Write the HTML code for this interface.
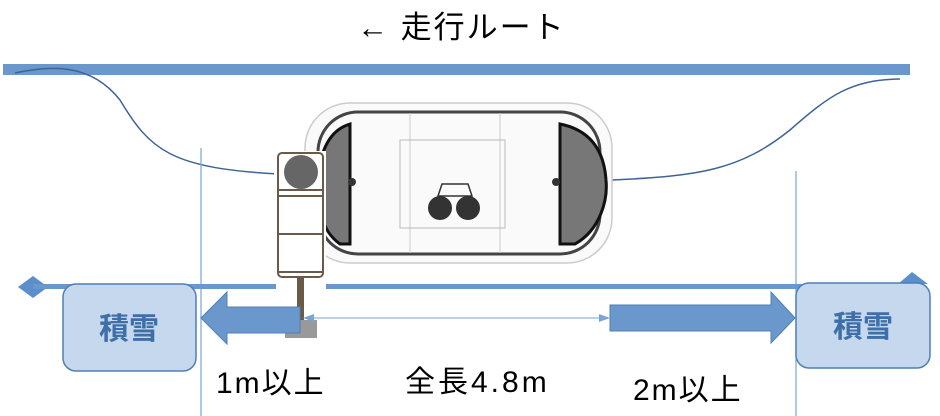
<!DOCTYPE html>
<html><head><meta charset="utf-8"><style>
body{margin:0;background:#fff;width:940px;height:416px;overflow:hidden;position:relative;font-family:"Liberation Sans","Noto Sans CJK JP",sans-serif}
.t{position:absolute;color:#000;white-space:nowrap}
</style></head><body>
<svg width="940" height="416" style="position:absolute;left:0;top:0">
<rect x="3" y="64" width="907" height="11" fill="#6a98cc"/>
<path d="M15,73 C50,66 90,62 120,100 C150,150 170,168 278,174" fill="none" stroke="#3d6496" stroke-width="1.5"/>
<path d="M612,180 C700,176 740,170 790,130 C830,95 850,80 900,79" fill="none" stroke="#3d6496" stroke-width="1.5"/>
<line x1="201" y1="148" x2="201" y2="416" stroke="#7aa3d6" stroke-width="1.2"/>
<line x1="796" y1="171" x2="796" y2="416" stroke="#7aa3d6" stroke-width="1.2"/>
<!-- car -->
<rect x="305" y="103" width="307" height="160" rx="45" fill="#fafafa" stroke="#ccc" stroke-width="1.5"/>
<rect x="318" y="112" width="282" height="142" rx="40" fill="none" stroke="#444" stroke-width="3"/>
<line x1="410" y1="113" x2="410" y2="253" stroke="#ccc"/>
<line x1="500" y1="113" x2="500" y2="253" stroke="#ccc"/>
<path d="M350,124 L350,244 L340,244 C320,230 315,200 318,180 C320,150 330,130 350,124Z" fill="#777" stroke="#111" stroke-width="3"/>
<path d="M560,124 L560,244 L575,244 C600,230 608,200 606,180 C604,150 590,130 560,124Z" fill="#777" stroke="#111" stroke-width="3"/>
<rect x="400" y="140" width="105" height="88" fill="none" stroke="#bbb"/>
<circle cx="440" cy="208" r="12" fill="#333"/><circle cx="468" cy="208" r="12" fill="#333"/>
<path d="M438,196 L442,184 L468,184 L472,196Z" fill="none" stroke="#333" stroke-width="1.5"/>
<circle cx="352" cy="182" r="4" fill="#333"/><circle cx="556" cy="182" r="4" fill="#333"/>
<!-- pole -->
<rect x="274" y="151" width="52" height="127" fill="#fff"/>
<rect x="278" y="153" width="45" height="124" rx="4" fill="#fff" stroke="#6b5a4a" stroke-width="2"/>
<line x1="279" y1="190" x2="322" y2="190" stroke="#6b5a4a" stroke-width="2"/>
<line x1="279" y1="196" x2="322" y2="196" stroke="#6b5a4a" stroke-width="2"/>
<line x1="279" y1="234" x2="322" y2="234" stroke="#6b5a4a" stroke-width="2"/>
<line x1="279" y1="272" x2="322" y2="272" stroke="#6b5a4a" stroke-width="2"/>
<circle cx="301" cy="172" r="17" fill="#666"/>
<path d="M297,278 L297,320 L304,320 L304,278Z" fill="#6b5a4a"/>
<rect x="285" y="320" width="32" height="18" fill="#999"/>
<!-- lower line -->
<path d="M18,287 L33,276 L48,287 L33,298Z" fill="#5b8fcb"/>
<rect x="33" y="284" width="243" height="5" fill="#6a98cc"/>
<rect x="326" y="284" width="594" height="5" fill="#6a98cc"/>
<path d="M898,284 L912,272 L928,284Z" fill="#5b8fcb"/>
<!-- snow boxes -->
<rect x="63" y="284" width="133" height="87" rx="13" fill="#c5d8ee" stroke="#4f7fb5" stroke-width="1.5"/>
<rect x="796" y="283" width="134" height="85" rx="13" fill="#c5d8ee" stroke="#4f7fb5" stroke-width="1.5"/>
<text x="129" y="339" text-anchor="middle" font-size="30" font-weight="bold" fill="#3f6fa8" font-family="Liberation Sans,Noto Sans CJK JP,sans-serif">積雪</text>
<text x="863" y="337" text-anchor="middle" font-size="30" font-weight="bold" fill="#3f6fa8" font-family="Liberation Sans,Noto Sans CJK JP,sans-serif">積雪</text>
<!-- block arrows -->
<path d="M201,318 L227,292 L227,307 L300,307 L300,333 L227,333 L227,344Z" fill="#6a98cc" stroke="#4f7fb5"/>
<path d="M795,318 L771,292 L771,305 L610,305 L610,331 L771,331 L771,343Z" fill="#6a98cc" stroke="#4f7fb5"/>
<line x1="312" y1="318" x2="602" y2="318" stroke="#7aa3d6" stroke-width="1"/>
<path d="M303,318 L314,314 L314,322Z" fill="#7aa3d6"/>
<path d="M610,318 L599,314 L599,322Z" fill="#7aa3d6"/>
</svg>
<div class="t" style="left:357px;top:2px;font-size:31px;letter-spacing:2px">← 走行ルート</div>
<div class="t" style="left:216px;top:358px;font-size:30px;letter-spacing:2px">1m以上</div>
<div class="t" style="left:405px;top:357px;font-size:30px;letter-spacing:3px">全長4.8m</div>
<div class="t" style="left:633px;top:365px;font-size:30px;letter-spacing:2px">2m以上</div>
</body></html>
